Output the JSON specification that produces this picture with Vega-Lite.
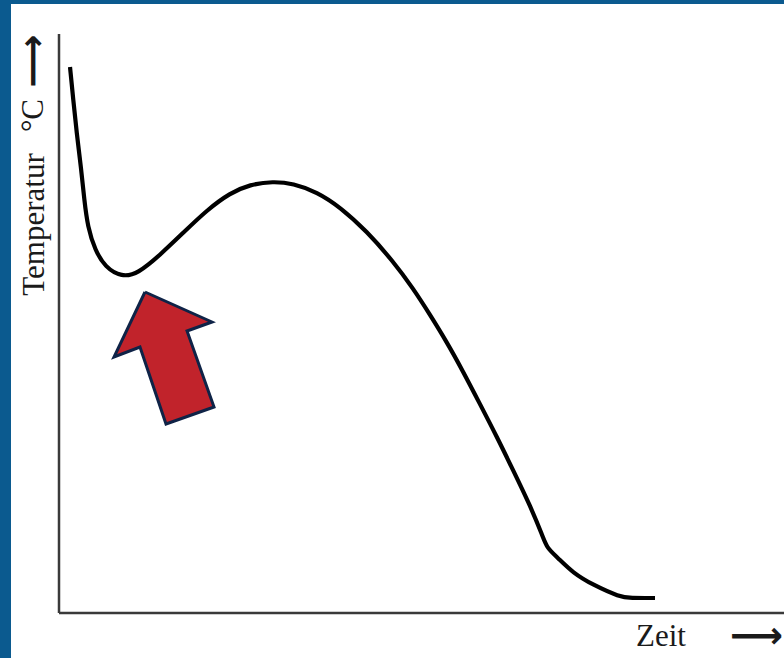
{
  "$schema": "https://vega.github.io/schema/vega-lite/v6.json",
  "width": 773,
  "height": 654,
  "autosize": "none",
  "padding": {"left": 11, "top": 4, "right": 0, "bottom": 0},
  "background": "#0b5a8f",
  "config": {"view": {"fill": "white", "stroke": null}},
  "encoding": {
    "x": {"field": "x", "type": "quantitative", "scale": {"domain": [-6.621, 100], "nice": false, "zero": false}, "axis": null},
    "y": {"field": "y", "type": "quantitative", "scale": {"domain": [-7.772, 105.181], "nice": false, "zero": false}, "axis": null}
  },
  "layer": [
    {
      "data": {"values": [
        {"x": 0, "y": 0, "x2": 0, "y2": 100},
        {"x": 0, "y": 0, "x2": 100, "y2": 0}
      ]},
      "mark": {"type": "rule", "color": "#3a3a3a", "strokeWidth": 2.5},
      "encoding": {"x2": {"field": "x2"}, "y2": {"field": "y2"}}
    },
    {
      "data": {"values": [
        {"x": 1.52, "y": 94.30},
        {"x": 1.97, "y": 88.60},
        {"x": 2.44, "y": 82.90},
        {"x": 3.03, "y": 77.03},
        {"x": 3.49, "y": 71.33},
        {"x": 3.96, "y": 66.67},
        {"x": 4.97, "y": 62.69},
        {"x": 6.34, "y": 59.76},
        {"x": 8.65, "y": 58.00},
        {"x": 10.90, "y": 58.62},
        {"x": 13.93, "y": 61.83},
        {"x": 17.10, "y": 65.63},
        {"x": 20.41, "y": 69.60},
        {"x": 23.59, "y": 72.54},
        {"x": 26.34, "y": 74.02},
        {"x": 29.52, "y": 74.54},
        {"x": 32.28, "y": 74.19},
        {"x": 35.59, "y": 72.71},
        {"x": 38.76, "y": 70.12},
        {"x": 42.48, "y": 65.90},
        {"x": 46.07, "y": 60.75},
        {"x": 48.83, "y": 56.09},
        {"x": 51.17, "y": 51.52},
        {"x": 53.52, "y": 46.73},
        {"x": 55.72, "y": 41.75},
        {"x": 58.07, "y": 36.08},
        {"x": 60.41, "y": 30.40},
        {"x": 62.62, "y": 24.70},
        {"x": 64.97, "y": 18.60},
        {"x": 66.76, "y": 13.13},
        {"x": 67.31, "y": 11.23},
        {"x": 68.69, "y": 9.67},
        {"x": 70.90, "y": 6.91},
        {"x": 73.66, "y": 4.84},
        {"x": 77.38, "y": 2.76},
        {"x": 78.76, "y": 2.59},
        {"x": 82.21, "y": 2.59}
      ]},
      "mark": {"type": "line", "color": "black", "strokeWidth": 4.2, "interpolate": "basis"}
    },
    {
      "data": {"values": [
        {"i": 0, "x": 11.86, "y": 55.44},
        {"i": 1, "x": 21.10, "y": 50.26},
        {"i": 2, "x": 17.66, "y": 48.70},
        {"i": 3, "x": 21.38, "y": 35.58},
        {"i": 4, "x": 14.76, "y": 32.64},
        {"i": 5, "x": 11.17, "y": 45.94},
        {"i": 6, "x": 7.59, "y": 44.21},
        {"i": 7, "x": 11.86, "y": 55.44}
      ]},
      "mark": {"type": "line", "fill": "#c1232b", "stroke": "#0f2347", "strokeWidth": 3, "strokeJoin": "miter"},
      "encoding": {"order": {"field": "i", "type": "quantitative"}}
    },
    {
      "data": {"values": [{"label": "Temperatur", "x": -3.31, "y": 67.10}]},
      "mark": {"type": "text", "angle": 270, "align": "center", "baseline": "middle", "font": "Liberation Serif", "fontSize": 31, "color": "#1a1a1a"},
      "encoding": {"text": {"field": "label"}}
    },
    {
      "data": {"values": [{"label": "°C", "x": -3.45, "y": 85.92}]},
      "mark": {"type": "text", "angle": 270, "align": "center", "baseline": "middle", "font": "Liberation Serif", "fontSize": 31, "color": "#1a1a1a"},
      "encoding": {"text": {"field": "label"}}
    },
    {
      "data": {"values": [{"label": "⟶", "x": -3.45, "y": 95.34}]},
      "mark": {"type": "text", "angle": 270, "align": "center", "baseline": "middle", "font": "DejaVu Sans", "fontWeight": "bold", "fontSize": 37, "color": "#1a1a1a"},
      "encoding": {"text": {"field": "label"}}
    },
    {
      "data": {"values": [{"label": "Zeit", "x": 83.03, "y": -4.15}]},
      "mark": {"type": "text", "align": "center", "baseline": "middle", "font": "Liberation Serif", "fontSize": 31, "color": "#1a1a1a"},
      "encoding": {"text": {"field": "label"}}
    },
    {
      "data": {"values": [{"label": "⟶", "x": 92.55, "y": -4.15}]},
      "mark": {"type": "text", "align": "left", "baseline": "middle", "font": "DejaVu Sans", "fontWeight": "bold", "fontSize": 37, "color": "#1a1a1a"},
      "encoding": {"text": {"field": "label"}}
    }
  ]
}
